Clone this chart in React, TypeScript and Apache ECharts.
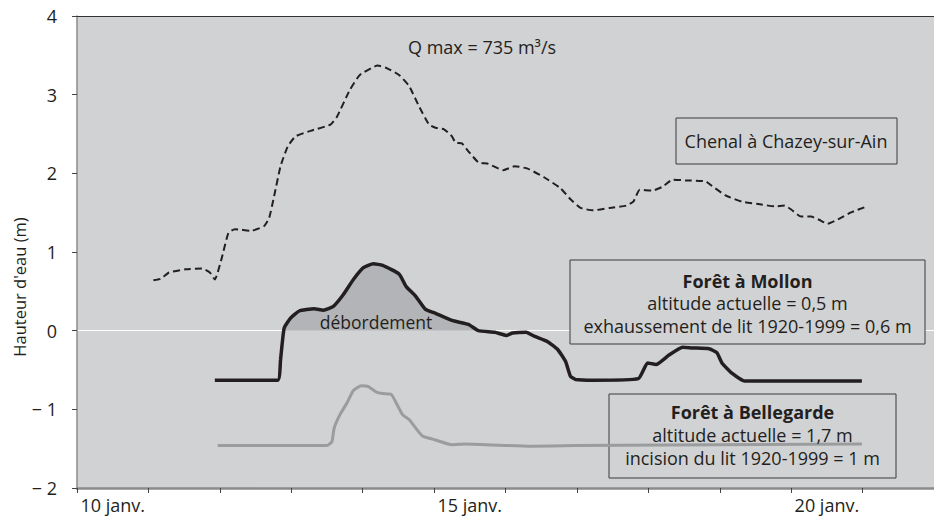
import React, { useEffect, useRef } from 'react';
import * as echarts from 'echarts';

const FONT = '"Open Sans", "Noto Sans", sans-serif';
const TXT = '#231f20';

const dayLabels = ['10 janv.', '11 janv.', '12 janv.', '13 janv.', '14 janv.', '15 janv.', '16 janv.', '17 janv.', '18 janv.', '19 janv.', '20 janv.', '21 janv.'];

const chenalX = [11.07, 11.17, 11.29, 11.52, 11.75, 11.86, 11.93, 12.02, 12.12, 12.21, 12.44, 12.62, 12.69, 12.76, 12.85, 12.95, 13.06, 13.27, 13.55, 13.64, 13.82, 13.96, 14.21, 14.33, 14.51, 14.65, 14.79, 14.93, 15.02, 15.14, 15.25, 15.30, 15.39, 15.48, 15.62, 15.76, 15.97, 16.13, 16.31, 16.54, 16.77, 16.91, 17.05, 17.23, 17.46, 17.69, 17.79, 17.88, 18.06, 18.20, 18.34, 18.52, 18.80, 18.89, 19.08, 19.31, 19.54, 19.77, 19.91, 20.00, 20.14, 20.28, 20.39, 20.51, 20.69, 20.83, 21.06];
const chenalY = [0.64, 0.66, 0.74, 0.78, 0.79, 0.74, 0.65, 0.90, 1.24, 1.29, 1.27, 1.33, 1.43, 1.71, 2.09, 2.34, 2.47, 2.54, 2.62, 2.72, 3.06, 3.25, 3.37, 3.34, 3.25, 3.11, 2.85, 2.62, 2.58, 2.56, 2.47, 2.39, 2.38, 2.28, 2.14, 2.12, 2.04, 2.09, 2.06, 1.95, 1.81, 1.67, 1.56, 1.53, 1.56, 1.59, 1.64, 1.79, 1.78, 1.83, 1.92, 1.91, 1.90, 1.84, 1.72, 1.64, 1.61, 1.58, 1.59, 1.54, 1.45, 1.45, 1.41, 1.36, 1.43, 1.50, 1.58];

const mollonX = [11.93, 12.81, 12.85, 12.90, 12.99, 13.11, 13.32, 13.45, 13.59, 13.73, 13.87, 14.01, 14.15, 14.28, 14.51, 14.61, 14.74, 14.88, 15.02, 15.25, 15.48, 15.62, 15.85, 16.01, 16.10, 16.29, 16.40, 16.59, 16.73, 16.84, 16.91, 16.98, 17.23, 17.86, 17.99, 18.11, 18.29, 18.48, 18.62, 18.85, 18.96, 19.03, 19.17, 19.35, 20.99];
const mollonY = [-0.63, -0.63, -0.37, 0.03, 0.16, 0.25, 0.28, 0.26, 0.31, 0.46, 0.65, 0.80, 0.85, 0.83, 0.72, 0.56, 0.44, 0.27, 0.22, 0.13, 0.08, 0.00, -0.02, -0.06, -0.03, -0.02, -0.07, -0.14, -0.24, -0.39, -0.58, -0.62, -0.63, -0.61, -0.41, -0.43, -0.31, -0.21, -0.22, -0.23, -0.28, -0.41, -0.54, -0.64, -0.64];

const bellegardeX = [11.97, 13.50, 13.57, 13.60, 13.68, 13.78, 13.87, 13.98, 14.08, 14.19, 14.28, 14.40, 14.47, 14.56, 14.65, 14.77, 14.84, 15.02, 15.25, 15.44, 16.36, 16.96, 20.99];
const bellegardeY = [-1.46, -1.46, -1.41, -1.24, -1.07, -0.92, -0.76, -0.70, -0.71, -0.78, -0.80, -0.81, -0.92, -1.07, -1.13, -1.27, -1.34, -1.39, -1.45, -1.44, -1.47, -1.46, -1.44];

const zip = (xs: number[], ys: number[]) => xs.map((x, i) => [x, ys[i]]);

export default function App() {
  const ref = useRef<HTMLDivElement>(null);
  useEffect(() => {
    if (!ref.current) return;
    const chart = echarts.init(ref.current, undefined, { renderer: 'svg' });
    const chenal = zip(chenalX, chenalY);
    const mollon = zip(mollonX, mollonY);
    const bellegarde = zip(bellegardeX, bellegardeY);
    const overflow = mollon.filter(([x, y]) => y >= 0 && x < 16);
    const none = 'rgba(0,0,0,0)';
    const textBase = { fontFamily: FONT, fill: TXT, textAlign: 'center', textVerticalAlign: 'middle' };
    chart.setOption({
      animation: false,
      textStyle: { fontFamily: FONT, color: TXT },
      grid: { left: 77, top: 16, right: -11, bottom: 37, show: true, backgroundColor: '#d1d2d4', borderWidth: 0 },
      xAxis: [
        {
          type: 'value', min: 10, max: 22, interval: 1, position: 'bottom',
          axisLine: { onZero: false, lineStyle: { color: '#8a8b8d', width: 2.5 } },
          axisTick: { show: true, length: 5, lineStyle: { color: '#444', width: 1 } },
          axisLabel: { show: false }, splitLine: { show: false },
        },
        {
          type: 'category', data: dayLabels, boundaryGap: true, position: 'bottom',
          axisLine: { show: false, onZero: false }, axisTick: { show: false },
          axisLabel: { interval: 4, fontSize: 18, color: TXT, fontFamily: FONT, margin: 8 },
        },
        {
          type: 'value', min: 10, max: 22, position: 'top',
          axisLine: { onZero: false, lineStyle: { color: '#333', width: 1 } },
          axisTick: { show: false }, axisLabel: { show: false }, splitLine: { show: false },
        },
      ],
      yAxis: {
        type: 'value', min: -2, max: 4, interval: 1,
        axisLine: { show: true, onZero: false, lineStyle: { color: '#8a8b8d', width: 1.5 } },
        axisTick: { show: true, length: 5, lineStyle: { color: '#444', width: 1 } },
        axisLabel: { fontSize: 18, color: TXT, fontFamily: FONT, margin: 20, formatter: (v: number) => (v < 0 ? '− ' + Math.abs(v) : String(v)) },
        splitLine: { show: true, lineStyle: { color: [none, none, '#ffffff', none, none, none, none], width: 1 } },
      },
      series: [
        { type: 'line', name: 'débordement', xAxisIndex: 0, data: overflow, symbol: 'none', lineStyle: { width: 0 }, areaStyle: { color: '#b3b4b7', opacity: 1 }, z: 3, silent: true },
        { type: 'line', name: 'Forêt à Bellegarde', xAxisIndex: 0, data: bellegarde, symbol: 'none', smooth: 0.15, lineStyle: { color: '#9b9c9e', width: 3 }, z: 4 },
        { type: 'line', name: 'Forêt à Mollon', xAxisIndex: 0, data: mollon, symbol: 'none', smooth: 0.15, lineStyle: { color: TXT, width: 3.5 }, z: 5 },
        { type: 'line', name: 'Chenal à Chazey-sur-Ain', xAxisIndex: 0, data: chenal, symbol: 'none', smooth: 0.15, lineStyle: { color: TXT, width: 2, type: [7, 4] }, z: 5 },
      ],
      graphic: [
        { type: 'text', x: 19, y: 287, rotation: Math.PI / 2, z: 10, style: { ...textBase, text: "Hauteur d'eau (m)", fontSize: 16.5 } },
        { type: 'text', x: 408, y: 47, z: 10, style: { ...textBase, textAlign: 'left', text: 'Q max = 735 m³/s', fontSize: 18 } },
        { type: 'text', x: 376, y: 322, z: 10, style: { ...textBase, text: 'débordement', fontSize: 17.5 } },
        { type: 'rect', z: 1, shape: { x: 676, y: 118, width: 221, height: 46 }, style: { fill: '#d1d2d4', stroke: '#3a3a3a', lineWidth: 1 } },
        { type: 'text', x: 786, y: 141, z: 10, style: { ...textBase, text: 'Chenal à Chazey-sur-Ain', fontSize: 18 } },
        { type: 'rect', z: 1, shape: { x: 570, y: 260, width: 355, height: 84 }, style: { fill: '#d1d2d4', stroke: '#3a3a3a', lineWidth: 1 } },
        { type: 'text', x: 747.5, y: 281, z: 10, style: { ...textBase, text: 'Forêt à Mollon', fontSize: 18, fontWeight: 'bold' } },
        { type: 'text', x: 747.5, y: 303, z: 10, style: { ...textBase, text: 'altitude actuelle = 0,5 m', fontSize: 18 } },
        { type: 'text', x: 747.5, y: 326, z: 10, style: { ...textBase, text: 'exhaussement de lit 1920-1999 = 0,6 m', fontSize: 18 } },
        { type: 'rect', z: 1, shape: { x: 609, y: 394, width: 287, height: 84 }, style: { fill: '#d1d2d4', stroke: '#3a3a3a', lineWidth: 1 } },
        { type: 'text', x: 752.5, y: 412, z: 10, style: { ...textBase, text: 'Forêt à Bellegarde', fontSize: 18, fontWeight: 'bold' } },
        { type: 'text', x: 752.5, y: 434.5, z: 10, style: { ...textBase, text: 'altitude actuelle = 1,7 m', fontSize: 18 } },
        { type: 'text', x: 752.5, y: 458, z: 10, style: { ...textBase, text: 'incision du lit 1920-1999 = 1 m', fontSize: 18 } },
      ],
    });
    return () => chart.dispose();
  }, []);
  return <div ref={ref} style={{ position: 'fixed', left: 0, top: 0, width: 934, height: 525, background: '#fff' }} />;
}
